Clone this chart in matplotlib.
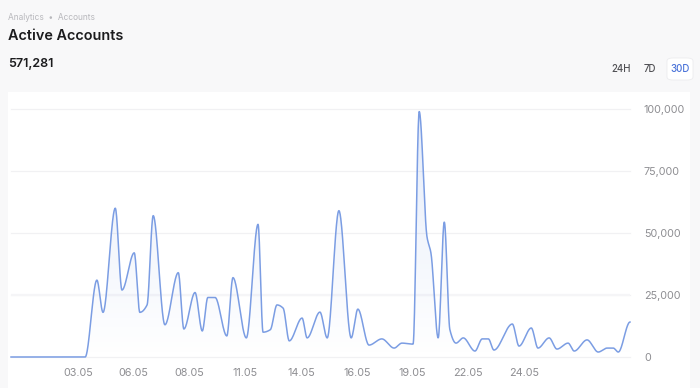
import numpy as np
import matplotlib.pyplot as plt
from matplotlib.patches import FancyBboxPatch, Rectangle

plt.rcParams['font.family'] = ['Inter', 'DejaVu Sans']

# knots of the curve: position on the category axis and active accounts
pos = [0.0, 13.3, 15.4, 16.5, 18.7, 19.9, 22.1, 23.1, 24.4, 25.5,
       27.6, 30.0, 31.0, 33.0, 34.3, 35.3, 36.6, 38.7, 39.8, 42.2,
       44.3, 45.2, 46.5, 47.7, 48.8, 49.9, 52.2, 53.1, 55.4, 56.7,
       58.8, 61.0, 62.2, 64.2, 66.5, 68.7, 70.1, 72.1, 73.2, 74.6,
       75.3, 76.6, 77.7, 78.7, 79.8, 81.1, 83.2, 84.5, 85.6, 86.6,
       89.9, 91.1, 93.3, 94.5, 96.5, 97.9, 99.9, 101.0, 103.3, 105.3,
       106.9, 108.0, 108.9, 111.0]
accounts = [0, 0, 31000, 18000, 60000, 27000, 42000, 18000, 21000, 57000,
            13000, 34000, 11300, 26000, 10500, 24000, 24000, 8500, 32000, 7700,
            53500, 10000, 11000, 21000, 19700, 6500, 15700, 7700, 18100, 7700,
            59000, 7700, 19300, 4800, 7300, 3600, 5600, 5200, 99000, 48400,
            42000, 7700, 54400, 11000, 5600, 7700, 2400, 7300, 7300, 2800,
            13300, 4400, 11700, 3600, 7700, 3200, 5600, 2400, 6900, 2000,
            3600, 3600, 2000, 14100]
tick_pos = [12, 22, 32, 42, 52, 62, 72, 82, 92]
tick_labels = ['03.05', '06.05', '08.05', '11.05', '14.05', '16.05', '19.05', '22.05', '24.05']
y_ticks = [0, 25000, 50000, 75000, 100000]


def pchip(x, y, xs):
    # monotone cubic so the smooth line keeps its peaks
    x = np.asarray(x, float)
    y = np.asarray(y, float)
    h = np.diff(x)
    d = np.diff(y) / h
    m = np.zeros_like(y)
    for k in range(1, len(x) - 1):
        if d[k - 1] * d[k] > 0:
            w1 = 2 * h[k] + h[k - 1]
            w2 = h[k] + 2 * h[k - 1]
            m[k] = (w1 + w2) / (w1 / d[k - 1] + w2 / d[k])
    i = np.clip(np.searchsorted(x, xs) - 1, 0, len(h) - 1)
    t = (xs - x[i]) / h[i]
    h00 = 2 * t**3 - 3 * t**2 + 1
    h10 = t**3 - 2 * t**2 + t
    h01 = -2 * t**3 + 3 * t**2
    h11 = t**3 - t**2
    return h00 * y[i] + h10 * h[i] * m[i] + h01 * y[i + 1] + h11 * h[i] * m[i + 1]


fig = plt.figure(figsize=(7, 3.88), dpi=100)
fig.patch.set_facecolor('#f8f8f9')
fig.patches.append(Rectangle((8 / 700, 0), 682 / 700, 1 - 92 / 388, transform=fig.transFigure,
                             facecolor='white', edgecolor='none', zorder=-5))

fig.text(8 / 700, 1 - 18 / 388, 'Analytics  •  Accounts', fontsize=6, color='#b8b8bc', va='center')
fig.text(8 / 700, 1 - 36 / 388, 'Active Accounts', fontsize=10.4, fontweight='semibold', color='#1c1c1e', va='center')
fig.text(8 / 700, 1 - 64 / 388, '571,281', fontsize=9, fontweight='semibold', color='#1c1c1e', va='center')

fig.patches.append(FancyBboxPatch((667 / 700, 1 - 80 / 388), 26 / 700, 22 / 388,
                                  boxstyle='round,pad=0,rounding_size=0.008', transform=fig.transFigure,
                                  facecolor='white', edgecolor='#ececee', lw=0.6, zorder=1))
fig.text(621 / 700, 1 - 69 / 388, '24H', fontsize=7, fontweight='medium', color='#505054', ha='center', va='center')
fig.text(650 / 700, 1 - 69 / 388, '7D', fontsize=7, fontweight='medium', color='#505054', ha='center', va='center')
fig.text(680 / 700, 1 - 69 / 388, '30D', fontsize=7, fontweight='medium', color='#4a73d9', ha='center', va='center')

ax = fig.add_axes([11 / 700, 1 - 357 / 388, 619 / 700, 248 / 388])
ax.set_facecolor('none')

xs = np.linspace(pos[0], pos[-1], 2000)
ys = np.maximum(pchip(pos, accounts, xs), 0)

line_color = '#7b9de3'
fill = ax.fill_between(xs, 0, ys, color='none', lw=0)
grad = np.linspace(0.2, 0.0, 256).reshape(-1, 1)
img = ax.imshow(np.dstack([np.full_like(grad, 0.48), np.full_like(grad, 0.62), np.full_like(grad, 0.89), grad]),
                extent=[pos[0], pos[-1], 0, 100000], aspect='auto', origin='upper', zorder=1)
img.set_clip_path(fill.get_paths()[0], transform=ax.transData)
ax.plot(xs, ys, color=line_color, lw=1.1, zorder=3, clip_on=False)

ax.set_xlim(pos[0], pos[-1])
ax.set_ylim(0, 100000)
for v in y_ticks:
    ax.axhline(v, color='#f1f1f3', lw=0.9, zorder=0, clip_on=False)
ax.axhline(25000, color='#f5f5f7', lw=1.6, zorder=0)

ax.set_xticks(tick_pos)
ax.set_xticklabels(tick_labels)
ax.set_yticks(y_ticks)
ax.set_yticklabels([f'{v:,}' for v in y_ticks])
ax.yaxis.tick_right()
ax.tick_params(axis='both', length=0, labelsize=7.8, labelcolor='#8e8e92')
ax.tick_params(axis='y', pad=10)
ax.tick_params(axis='x', pad=8)
for lab in ax.get_yticklabels():
    lab.set_horizontalalignment('left')
for s in ax.spines.values():
    s.set_visible(False)

fig.savefig('out.png', dpi=100, facecolor=fig.get_facecolor())
